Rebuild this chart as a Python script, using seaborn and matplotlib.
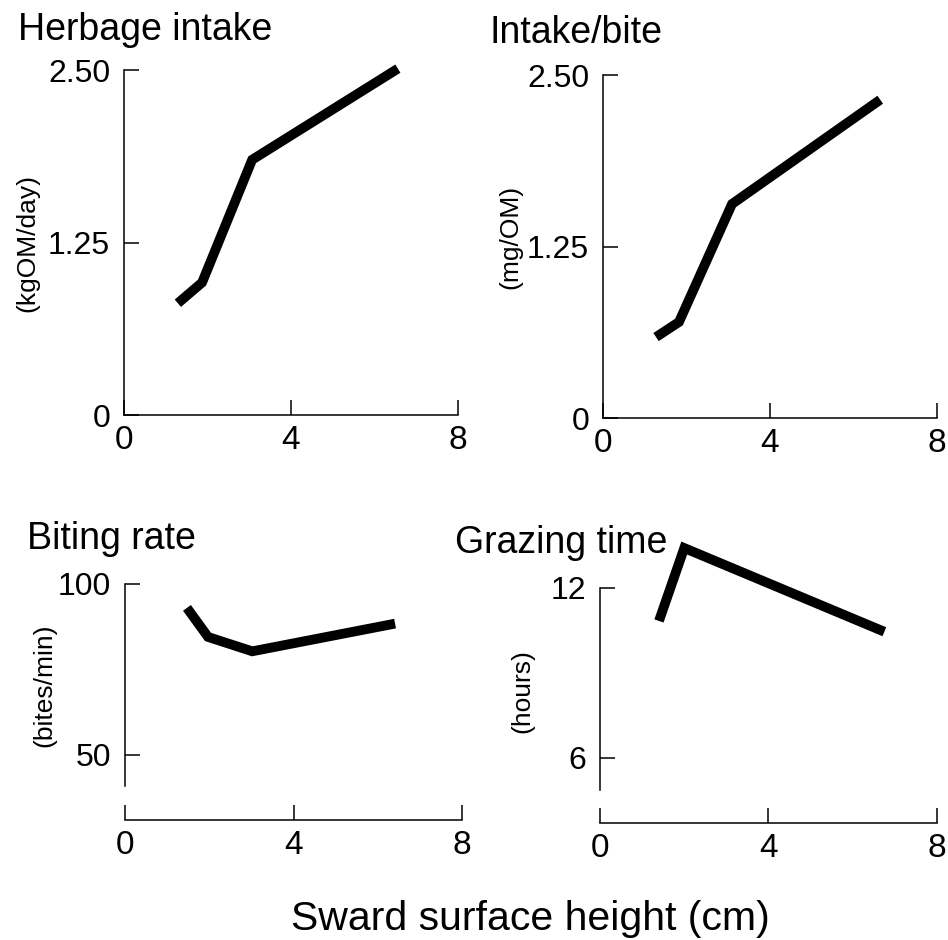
import seaborn as sns
import matplotlib.pyplot as plt

# Values (x = sward surface height, cm)
herbage_x = [1.29, 1.87, 3.07, 6.56]
herbage_y = [0.81, 0.96, 1.85, 2.51]

bite_x = [1.27, 1.82, 3.09, 6.64]
bite_y = [0.59, 0.70, 1.56, 2.32]

rate_x = [1.47, 1.97, 3.02, 6.41]
rate_y = [93.0, 84.5, 80.3, 88.4]

graze_x = [1.40, 2.00, 6.75]
graze_y = [10.83, 13.40, 10.45]

titles = ['Herbage intake', 'Intake/bite', 'Biting rate', 'Grazing time']
units = ['(kgOM/day)', '(mg/OM)', '(bites/min)', '(hours)']
yticks = [[0, 1.25, 2.50], [0, 1.25, 2.50], [50, 100], [6, 12]]
yticklabels = [['0', '1.25', '2.50'], ['0', '1.25', '2.50'], ['50', '100'], ['6', '12']]
xticks = [0, 4, 8]

sns.set_style('ticks')
plt.rcParams['font.family'] = ['Liberation Sans', 'DejaVu Sans']
plt.rcParams['text.color'] = 'black'
plt.rcParams['axes.labelcolor'] = 'black'

fig = plt.figure(figsize=(9.48, 9.40), dpi=100)

# axes rectangles (figure fractions), y limits, left spine bounds
rects = [
    [0.1308, 0.5585, 0.3523, 0.3670],
    [0.6361, 0.5553, 0.3523, 0.3649],
    [0.1319, 0.1277, 0.3555, 0.2511],
    [0.6329, 0.1245, 0.3555, 0.3106],
]
ylims = [(0, 2.5), (0, 2.5), (31, 100), (3.71, 14)]
ybounds = [(0, 2.5), (0, 2.5), (41, 100), (4.87, 12)]
title_pos = [(-0.317, 1.087), (-0.341, 1.093), (-0.291, 1.148), (-0.43, 0.925)]
label_pos = [(-0.29, 0.50), (-0.278, 0.528), (-0.24, 0.572), (-0.231, 0.452)]

series = [(herbage_x, herbage_y), (bite_x, bite_y), (rate_x, rate_y), (graze_x, graze_y)]

for i, (xs, ys) in enumerate(series):
    ax = fig.add_axes(rects[i])
    sns.lineplot(x=xs, y=ys, ax=ax, color='black', lw=7,
                 solid_capstyle='butt', solid_joinstyle='miter', clip_on=False)
    ax.set_xlim(0, 8)
    ax.set_ylim(*ylims[i])
    ax.set_xticks(xticks)
    ax.set_xticklabels(['0', '4', '8'])
    ax.set_yticks(yticks[i])
    ax.set_yticklabels(yticklabels[i])
    for s in ['top', 'right']:
        ax.spines[s].set_visible(False)
    for s in ['left', 'bottom']:
        ax.spines[s].set_linewidth(1.1)
        ax.spines[s].set_color('black')
    ax.spines['left'].set_bounds(*ybounds[i])
    ax.tick_params(axis='both', direction='in', length=11, width=1.1,
                   colors='black', labelsize=23)
    ax.tick_params(axis='y', pad=10)
    ax.tick_params(axis='x', pad=7, labelsize=24)
    ax.set_title(titles[i], loc='left', x=title_pos[i][0], y=title_pos[i][1],
                 fontsize=27, va='baseline', pad=0, color='black')
    ax.set_ylabel(units[i], fontsize=19, ha='center', va='center')
    ax.yaxis.set_label_coords(*label_pos[i])
    ax.set_xlabel('')
    ax.patch.set_alpha(0)

fig.text(530 / 948, 10 / 940, 'Sward surface height (cm)', ha='center',
         va='baseline', fontsize=29.5, color='black')

plt.savefig('out.png', dpi=100)
